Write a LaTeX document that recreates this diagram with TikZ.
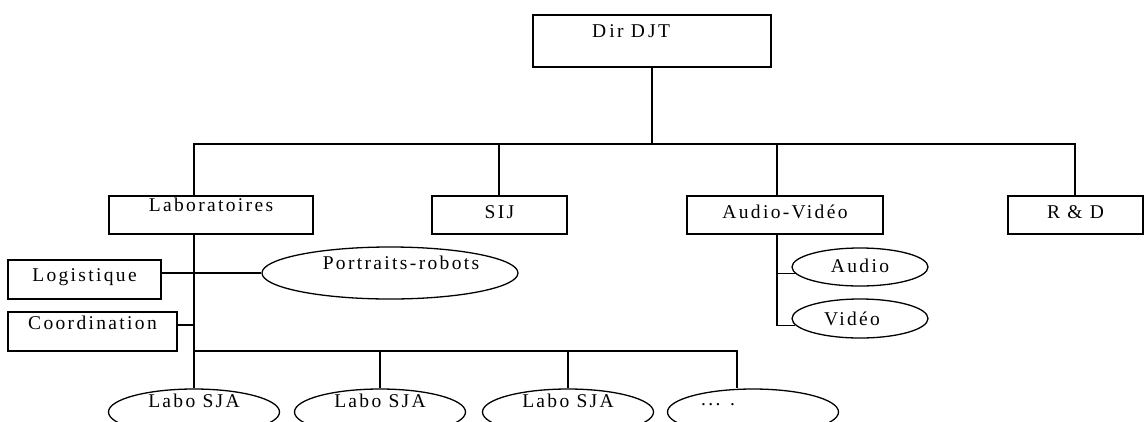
\documentclass[tikz,border=0pt]{standalone}
\usepackage{fontspec}
\setmainfont{Liberation Serif}[LetterSpace=12]
\usetikzlibrary{shapes.geometric}
\tikzset{
  every node/.style={font=\fontsize{19.5}{24}\selectfont},
  box/.style={draw, line width=1.3pt, rectangle, inner sep=0pt, minimum height=38pt},
  oval/.style={draw, line width=1.3pt, ellipse, inner sep=0pt},
  lbl/.style={inner sep=0pt, text height=0.66em, text depth=0pt},
  wire/.style={line width=1.3pt}
}
\begin{document}
\begin{tikzpicture}[x=1pt,y=-1pt]
\clip (0,0) rectangle (1148,421);
\fill[white] (0,0) rectangle (1148,421);
% top
\node[box, minimum width=238pt, minimum height=52pt, label={[lbl,xshift=-21pt,yshift=7pt]center:D\,ir D\,JT}] (dir) at (652,41) {};
\node[box, minimum width=204pt, label={[lbl,yshift=6.5pt]center:Laboratoires}] (lab) at (211,215) {};
\node[box, minimum width=135pt, label={[lbl]center:SIJ}] (sij) at (499.5,215) {};
\node[box, minimum width=196pt, label={[lbl]center:Audio-Vidéo}] (av) at (785,215) {};
\node[box, minimum width=135pt, label={[lbl]center:R \& D}] (rd) at (1075.5,215) {};
\node[box, minimum width=153pt, minimum height=39pt, label={[lbl,yshift=1.5pt]center:Logistique}] (log) at (84.5,279.5) {};
\node[box, minimum width=169pt, minimum height=39pt, label={[lbl,yshift=5.5pt]center:Coordination}] (coo) at (92.5,331.5) {};
\node[oval, minimum width=256pt, minimum height=52pt, label={[lbl,xshift=11pt,yshift=6.5pt]center:Portraits-robots}] (pr) at (390,273) {};
\node[oval, minimum width=136pt, minimum height=38pt, label={[lbl,yshift=-2.5pt]center:Audio}] (au) at (860,267) {};
\node[oval, minimum width=136pt, minimum height=39pt, label={[lbl,xshift=-8pt,yshift=-4pt]center:Vidéo}] (vi) at (860,318.5) {};
\node[oval, minimum width=171pt, minimum height=46pt, label={[lbl,yshift=8pt]center:Labo SJA}] (l1) at (194,412) {};
\node[oval, minimum width=171pt, minimum height=46pt, label={[lbl,yshift=8pt]center:Labo SJA}] (l2) at (380,412) {};
\node[oval, minimum width=171pt, minimum height=46pt, label={[lbl,yshift=8pt]center:Labo SJA}] (l3) at (568,412) {};
\node[oval, minimum width=171pt, minimum height=46pt, label={[lbl,xshift=-35pt,yshift=10pt]center:... .}] (l4) at (753,412) {};
% coordinates
\coordinate (busL) at (194,144);
\coordinate (busR) at (1075,144);
\coordinate (dSij) at (499,144);
\coordinate (dAv) at (777,144);
\coordinate (bot) at (194,351);
\coordinate (botR) at (737,351);
\coordinate (cooJ) at (194,325);
\coordinate (avB) at (777,234);
% wires
\draw[wire] (dir.south) -- (dir.south |- busL);
\draw[wire] (lab.north -| busL) -- (busL) -- (busR) -- (rd.north -| busR);
\draw[wire] (dSij) -- (sij.north -| dSij);
\draw[wire] (dAv) -- (av.north -| dAv);
\draw[wire] (lab.south -| busL) -- (l1.north);
\draw[wire] (log.east |- pr.west) -- (pr.west);
\draw[wire] (coo.east |- cooJ) -- (cooJ);
\draw[wire] (bot) -- (botR) -- (botR |- l4.north);
\draw[wire] (bot -| l2.north) -- (l2.north);
\draw[wire] (bot -| l3.north) -- (l3.north);
\draw[wire] (avB) -- (avB |- vi.186) -- (vi.186);
\draw[wire] (avB |- au.186) -- (au.186);
\end{tikzpicture}
\end{document}
